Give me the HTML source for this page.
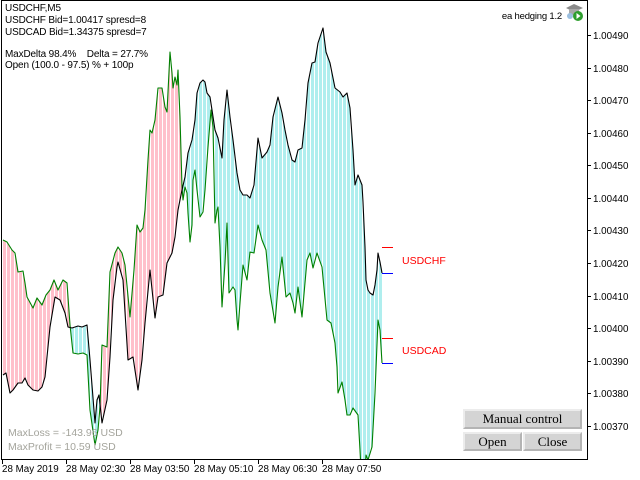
<!DOCTYPE html>
<html><head><meta charset="utf-8"><style>
html,body{margin:0;padding:0;background:#fff;}
body{width:640px;height:480px;position:relative;overflow:hidden;font-family:"Liberation Sans",sans-serif;}
svg{position:absolute;left:0;top:0;}
.btn{position:absolute;background:#d4d4d4;border-top:2px solid #ececec;border-left:2px solid #ececec;border-right:2px solid #b4b4b4;border-bottom:2px solid #b4b4b4;box-sizing:border-box;font-family:"Liberation Serif",serif;font-size:13px;color:#000;text-align:center;}
</style></head><body>
<svg width="640" height="480" viewBox="0 0 640 480" xmlns="http://www.w3.org/2000/svg">
<defs>
<pattern id="pp" x="3" y="0" width="4" height="10" patternUnits="userSpaceOnUse"><rect x="0" y="0" width="3" height="10" fill="#ffc0cb"/></pattern>
<pattern id="pc" x="3" y="0" width="4" height="10" patternUnits="userSpaceOnUse"><rect x="0" y="0" width="3" height="10" fill="#afeeee"/></pattern>
<clipPath id="frame"><rect x="2" y="1" width="585" height="458"/></clipPath>
<clipPath id="aboveB"><polygon points="3,-10 3,375 6,373 10,393 13,390 18,383 22,383 25,378 28,385 33,390 38,391 42,387 45,377 50,327 55,297 60,300 65,313 68,327 72,328 78,326 82,327 87,325 90,360 95,423 97,400 99,395 102,423 107,400 110,357 113,300 117,267 118,262 123,280 128,360 133,357 138,390 142,360 145,323 150,270 155,318 158,297 163,295 167,263 172,253 175,237 178,210 182,190 185,177 188,153 192,140 195,120 197,93 200,83 203,80 205,82 207,93 210,97 212,110 215,130 218,138 222,158 224,120 227,90 230,117 233,140 237,173 240,190 243,195 247,195 250,198 254,185 258,138 262,158 267,152 270,145 273,117 278,97 282,113 285,130 288,145 292,160 295,162 298,150 302,148 305,120 308,83 312,63 315,62 318,43 323,28 326,52 330,63 335,88 340,92 343,97 347,93 350,108 353,150 355,185 358,175 362,185 363,202 365,247 366,280 368,290 370,293 373,295 375,285 377,270 378,253 380,262 382,273 382,-10"/></clipPath>
<clipPath id="belowB"><polygon points="3,490 3,375 6,373 10,393 13,390 18,383 22,383 25,378 28,385 33,390 38,391 42,387 45,377 50,327 55,297 60,300 65,313 68,327 72,328 78,326 82,327 87,325 90,360 95,423 97,400 99,395 102,423 107,400 110,357 113,300 117,267 118,262 123,280 128,360 133,357 138,390 142,360 145,323 150,270 155,318 158,297 163,295 167,263 172,253 175,237 178,210 182,190 185,177 188,153 192,140 195,120 197,93 200,83 203,80 205,82 207,93 210,97 212,110 215,130 218,138 222,158 224,120 227,90 230,117 233,140 237,173 240,190 243,195 247,195 250,198 254,185 258,138 262,158 267,152 270,145 273,117 278,97 282,113 285,130 288,145 292,160 295,162 298,150 302,148 305,120 308,83 312,63 315,62 318,43 323,28 326,52 330,63 335,88 340,92 343,97 347,93 350,108 353,150 355,185 358,175 362,185 363,202 365,247 366,280 368,290 370,293 373,295 375,285 377,270 378,253 380,262 382,273 382,490"/></clipPath>
</defs>
<g clip-path="url(#frame)">
<g clip-path="url(#aboveB)">
<polygon fill="url(#pp)" points="3,490 3,240 7,242 12,250 15,253 18,272 23,271 25,283 27,297 33,308 37,298 42,305 46,295 50,290 54,280 58,290 63,280 67,283 70,325 73,353 78,354 83,353 87,355 90,410 95,445 98,430 100,407 102,345 107,347 110,272 115,253 118,247 122,253 125,265 130,317 134,270 137,225 140,232 143,228 145,210 148,160 150,130 152,133 155,120 158,88 162,88 165,107 167,112 170,52 172,73 173,88 175,77 177,85 178,70 180,117 182,187 183,200 185,187 187,193 188,213 190,242 192,225 193,180 195,170 197,190 200,217 203,212 205,190 208,147 211,110 213,127 215,223 217,210 218,207 220,247 222,307 225,263 227,223 229,293 233,287 235,290 237,320 238,330 240,303 243,265 247,280 250,252 254,253 258,225 262,240 266,250 270,293 275,323 278,287 282,257 286,297 290,293 293,303 295,313 298,287 302,317 307,260 310,253 313,268 317,253 322,267 327,320 331,323 335,343 337,367 338,393 342,382 345,400 347,415 350,415 353,408 358,415 360,450 361,470 365,470 366,455 368,460 372,447 375,393 378,320 380,330 382,363 382,490"/>
</g>
<g clip-path="url(#belowB)">
<polygon fill="url(#pc)" points="3,-10 3,240 7,242 12,250 15,253 18,272 23,271 25,283 27,297 33,308 37,298 42,305 46,295 50,290 54,280 58,290 63,280 67,283 70,325 73,353 78,354 83,353 87,355 90,410 95,445 98,430 100,407 102,345 107,347 110,272 115,253 118,247 122,253 125,265 130,317 134,270 137,225 140,232 143,228 145,210 148,160 150,130 152,133 155,120 158,88 162,88 165,107 167,112 170,52 172,73 173,88 175,77 177,85 178,70 180,117 182,187 183,200 185,187 187,193 188,213 190,242 192,225 193,180 195,170 197,190 200,217 203,212 205,190 208,147 211,110 213,127 215,223 217,210 218,207 220,247 222,307 225,263 227,223 229,293 233,287 235,290 237,320 238,330 240,303 243,265 247,280 250,252 254,253 258,225 262,240 266,250 270,293 275,323 278,287 282,257 286,297 290,293 293,303 295,313 298,287 302,317 307,260 310,253 313,268 317,253 322,267 327,320 331,323 335,343 337,367 338,393 342,382 345,400 347,415 350,415 353,408 358,415 360,450 361,470 365,470 366,455 368,460 372,447 375,393 378,320 380,330 382,363 382,-10"/>
</g>
<polyline fill="none" stroke="#008000" stroke-width="1.1" stroke-linejoin="round" points="3,240 7,242 12,250 15,253 18,272 23,271 25,283 27,297 33,308 37,298 42,305 46,295 50,290 54,280 58,290 63,280 67,283 70,325 73,353 78,354 83,353 87,355 90,410 95,445 98,430 100,407 102,345 107,347 110,272 115,253 118,247 122,253 125,265 130,317 134,270 137,225 140,232 143,228 145,210 148,160 150,130 152,133 155,120 158,88 162,88 165,107 167,112 170,52 172,73 173,88 175,77 177,85 178,70 180,117 182,187 183,200 185,187 187,193 188,213 190,242 192,225 193,180 195,170 197,190 200,217 203,212 205,190 208,147 211,110 213,127 215,223 217,210 218,207 220,247 222,307 225,263 227,223 229,293 233,287 235,290 237,320 238,330 240,303 243,265 247,280 250,252 254,253 258,225 262,240 266,250 270,293 275,323 278,287 282,257 286,297 290,293 293,303 295,313 298,287 302,317 307,260 310,253 313,268 317,253 322,267 327,320 331,323 335,343 337,367 338,393 342,382 345,400 347,415 350,415 353,408 358,415 360,450 361,470 365,470 366,455 368,460 372,447 375,393 378,320 380,330 382,363"/>
<polyline fill="none" stroke="#000" stroke-width="1.1" stroke-linejoin="round" points="3,375 6,373 10,393 13,390 18,383 22,383 25,378 28,385 33,390 38,391 42,387 45,377 50,327 55,297 60,300 65,313 68,327 72,328 78,326 82,327 87,325 90,360 95,423 97,400 99,395 102,423 107,400 110,357 113,300 117,267 118,262 123,280 128,360 133,357 138,390 142,360 145,323 150,270 155,318 158,297 163,295 167,263 172,253 175,237 178,210 182,190 185,177 188,153 192,140 195,120 197,93 200,83 203,80 205,82 207,93 210,97 212,110 215,130 218,138 222,158 224,120 227,90 230,117 233,140 237,173 240,190 243,195 247,195 250,198 254,185 258,138 262,158 267,152 270,145 273,117 278,97 282,113 285,130 288,145 292,160 295,162 298,150 302,148 305,120 308,83 312,63 315,62 318,43 323,28 326,52 330,63 335,88 340,92 343,97 347,93 350,108 353,150 355,185 358,175 362,185 363,202 365,247 366,280 368,290 370,293 373,295 375,285 377,270 378,253 380,262 382,273"/>
<g shape-rendering="crispEdges" stroke-width="1">
<line x1="382" y1="247.5" x2="393" y2="247.5" stroke="#ff0000"/>
<line x1="382" y1="273.5" x2="393" y2="273.5" stroke="#0000ff"/>
<line x1="382" y1="338.5" x2="393" y2="338.5" stroke="#ff0000"/>
<line x1="382" y1="363.5" x2="393" y2="363.5" stroke="#0000ff"/>
</g>
<text x="402" y="264" font-family="Liberation Sans, sans-serif" font-size="10.5" fill="#ff0000">USDCHF</text>
<text x="402" y="354" font-family="Liberation Sans, sans-serif" font-size="10.5" fill="#ff0000">USDCAD</text>
</g>
<g shape-rendering="crispEdges" stroke="#000" stroke-width="1" fill="none">
<rect x="1.5" y="0.5" width="586" height="459"/>
<line x1="587" y1="35.5" x2="591" y2="35.5"/>
<line x1="587" y1="68.5" x2="591" y2="68.5"/>
<line x1="587" y1="100.5" x2="591" y2="100.5"/>
<line x1="587" y1="133.5" x2="591" y2="133.5"/>
<line x1="587" y1="165.5" x2="591" y2="165.5"/>
<line x1="587" y1="198.5" x2="591" y2="198.5"/>
<line x1="587" y1="230.5" x2="591" y2="230.5"/>
<line x1="587" y1="263.5" x2="591" y2="263.5"/>
<line x1="587" y1="296.5" x2="591" y2="296.5"/>
<line x1="587" y1="328.5" x2="591" y2="328.5"/>
<line x1="587" y1="361.5" x2="591" y2="361.5"/>
<line x1="587" y1="393.5" x2="591" y2="393.5"/>
<line x1="587" y1="426.5" x2="591" y2="426.5"/>
<line x1="2.5" y1="459" x2="2.5" y2="464"/>
<line x1="66.5" y1="459" x2="66.5" y2="464"/>
<line x1="130.5" y1="459" x2="130.5" y2="464"/>
<line x1="194.5" y1="459" x2="194.5" y2="464"/>
<line x1="258.5" y1="459" x2="258.5" y2="464"/>
<line x1="322.5" y1="459" x2="322.5" y2="464"/>
</g>
<g font-family="Liberation Sans, sans-serif" font-size="9.8" fill="#000">
<text x="593" y="39">1.00490</text>
<text x="593" y="72">1.00480</text>
<text x="593" y="104">1.00470</text>
<text x="593" y="137">1.00460</text>
<text x="593" y="169">1.00450</text>
<text x="593" y="202">1.00440</text>
<text x="593" y="234">1.00430</text>
<text x="593" y="267">1.00420</text>
<text x="593" y="300">1.00410</text>
<text x="593" y="332">1.00400</text>
<text x="593" y="365">1.00390</text>
<text x="593" y="397">1.00380</text>
<text x="593" y="430">1.00370</text>
<text x="2" y="472">28 May 2019</text>
<text x="66" y="472">28 May 02:30</text>
<text x="130" y="472">28 May 03:50</text>
<text x="194" y="472">28 May 05:10</text>
<text x="258" y="472">28 May 06:30</text>
<text x="322" y="472">28 May 07:50</text>
</g>
<g font-family="Liberation Sans, sans-serif" font-size="10" fill="#000" letter-spacing="-0.15">
<text x="5" y="11">USDCHF,M5</text>
<text x="5" y="23">USDCHF Bid=1.00417 spresd=8</text>
<text x="5" y="35">USDCAD Bid=1.34375 spresd=7</text>
<text x="5" y="57">MaxDelta 98.4%&#160;&#160;&#160; Delta = 27.7%</text>
<text x="5" y="68">Open (100.0 - 97.5) % + 100p</text>
</g>
<g font-family="Liberation Sans, sans-serif" font-size="10.5" fill="#a4a49c">
<text x="8" y="436">MaxLoss = -143.96 USD</text>
<text x="8" y="450">MaxProfit = 10.59 USD</text>
</g>
<text x="562" y="19" text-anchor="end" font-family="Liberation Sans, sans-serif" font-size="9.5" fill="#000" letter-spacing="-0.2">ea hedging 1.2</text>
<g>
<polygon points="566,8 574,4 583,8 574,12" fill="#8a8a8a"/>
<rect x="569" y="9" width="10" height="6" fill="#a8a8a8"/>
<ellipse cx="570" cy="16" rx="3" ry="3" fill="#9bbfe0"/>
<circle cx="578" cy="16" r="5" fill="#2e9e2e"/>
<polygon points="576.5,13 576.5,19 580.5,16" fill="#fff"/>
</g>
</svg>
<div class="btn" style="left:463px;top:409px;width:119px;height:20px;line-height:16px;">Manual control</div>
<div class="btn" style="left:463px;top:432px;width:59px;height:19px;line-height:15px;">Open</div>
<div class="btn" style="left:523px;top:432px;width:59px;height:19px;line-height:15px;">Close</div>
</body></html>
